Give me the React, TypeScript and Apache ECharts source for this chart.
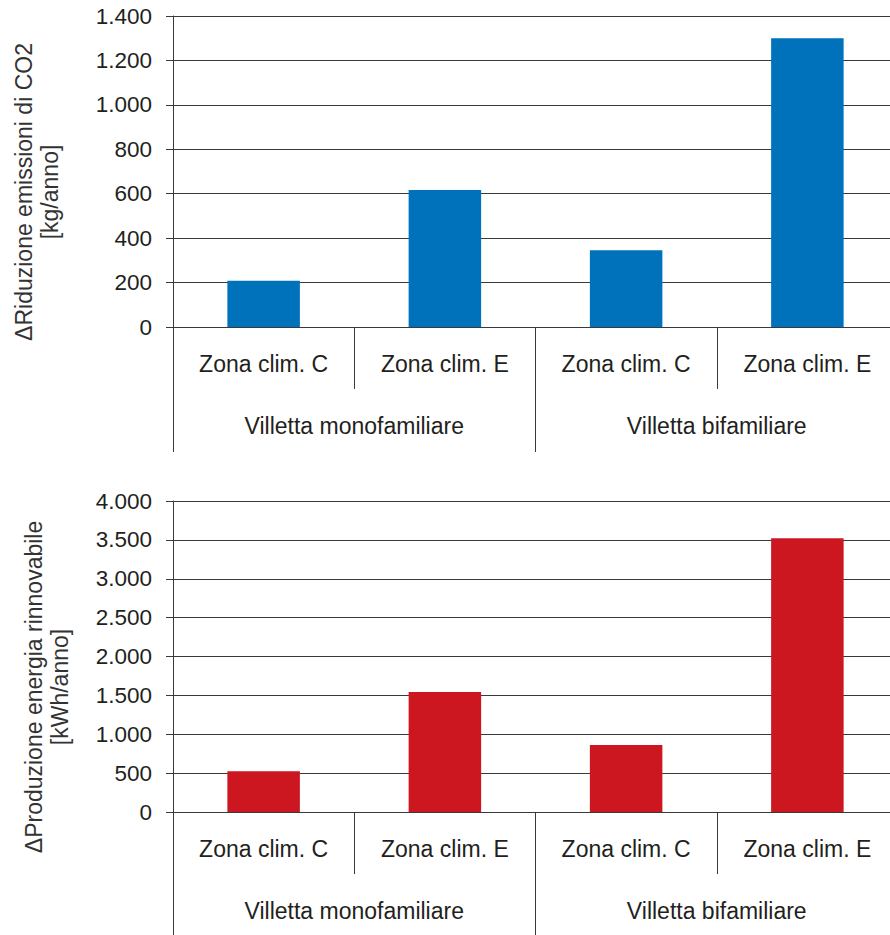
import React, { useEffect, useRef } from "react";
import * as echarts from "echarts";

const categories = ["Zona clim. C", "Zona clim. E", "Zona clim. C", "Zona clim. E"];
const groups = ["Villetta monofamiliare", "Villetta bifamiliare"];
const co2Values = [208, 617, 346, 1300];
const energyValues = [523, 1543, 862, 3520];
const co2Axis = { min: 0, max: 1400, interval: 200 };
const energyAxis = { min: 0, max: 4000, interval: 500 };
const co2Name = "\u0394Riduzione emissioni di CO2\n[kg/anno]";
const energyName = "\u0394Produzione energia rinnovabile\n[kWh/anno]";

const FONT = "'Liberation Sans', Arial, Helvetica, sans-serif";
const TEXT = "#231f20";
const LINE = "#3a3a3a";

const fmt = (v: number) => String(v).replace(/\B(?=(\d{3})+(?!\d))/g, ".");

export default function App() {
  const ref = useRef<HTMLDivElement>(null);
  useEffect(() => {
    if (!ref.current) return;
    const chart = echarts.init(ref.current, undefined, { renderer: "svg" });
    const grids = [
      { left: 173, width: 725, top: 16, height: 311 },
      { left: 173, width: 725, top: 501, height: 311 },
    ];
    const catAxis = (gi: number) => ({
      gridIndex: gi,
      type: "category",
      data: categories,
      position: "bottom",
      axisLine: { show: true, onZero: false, lineStyle: { color: LINE, width: 1 } },
      axisTick: { show: true, length: 62, lineStyle: { color: LINE, width: 1 } },
      axisLabel: { interval: 0, margin: 25, fontSize: 23, color: TEXT, fontFamily: FONT },
      splitLine: { show: false },
    });
    const grpAxis = (gi: number) => ({
      gridIndex: gi,
      type: "category",
      data: groups,
      position: "bottom",
      axisLine: { show: false, onZero: false },
      axisTick: { show: true, length: 125, lineStyle: { color: LINE, width: 1 } },
      axisLabel: { interval: 0, margin: 87, fontSize: 23, color: TEXT, fontFamily: FONT },
      splitLine: { show: false },
    });
    const valAxis = (gi: number, ax: { min: number; max: number; interval: number }) => ({
      gridIndex: gi,
      type: "value",
      min: ax.min,
      max: ax.max,
      interval: ax.interval,
      axisLine: { show: true, lineStyle: { color: LINE, width: 1 } },
      axisTick: { show: true, length: 7, lineStyle: { color: LINE, width: 1 } },
      axisLabel: { margin: 21, fontSize: 22.5, color: TEXT, fontFamily: FONT, formatter: fmt },
      splitLine: { show: true, lineStyle: { color: LINE, width: 1 } },
    });
    chart.setOption({
      animation: false,
      backgroundColor: "#ffffff",
      grid: grids,
      xAxis: [catAxis(0), grpAxis(0), catAxis(1), grpAxis(1)],
      yAxis: [valAxis(0, co2Axis), valAxis(1, energyAxis)],
      series: [
        {
          type: "bar",
          xAxisIndex: 0,
          yAxisIndex: 0,
          data: co2Values,
          barWidth: "40%",
          itemStyle: { color: "#0071bb" },
        },
        {
          type: "bar",
          xAxisIndex: 2,
          yAxisIndex: 1,
          data: energyValues,
          barWidth: "40%",
          itemStyle: { color: "#cc1720" },
        },
      ],
      graphic: [
        {
          type: "text",
          x: 37,
          y: 192,
          rotation: Math.PI / 2,
          style: {
            text: co2Name,
            align: "center",
            verticalAlign: "middle",
            fontSize: 23,
            lineHeight: 26,
            fontFamily: FONT,
            fill: "#333333",
          },
        },
        {
          type: "text",
          x: 47,
          y: 687,
          rotation: Math.PI / 2,
          style: {
            text: energyName,
            align: "center",
            verticalAlign: "middle",
            fontSize: 23,
            lineHeight: 26,
            fontFamily: FONT,
            fill: "#333333",
          },
        },
      ],
    });
    return () => chart.dispose();
  }, []);
  return (
    <div
      style={{
        position: "absolute",
        left: 0,
        top: 0,
        width: 890,
        height: 935,
        overflow: "hidden",
        background: "#fff",
      }}
    >
      <div ref={ref} style={{ width: 910, height: 935 }} />
    </div>
  );
}
